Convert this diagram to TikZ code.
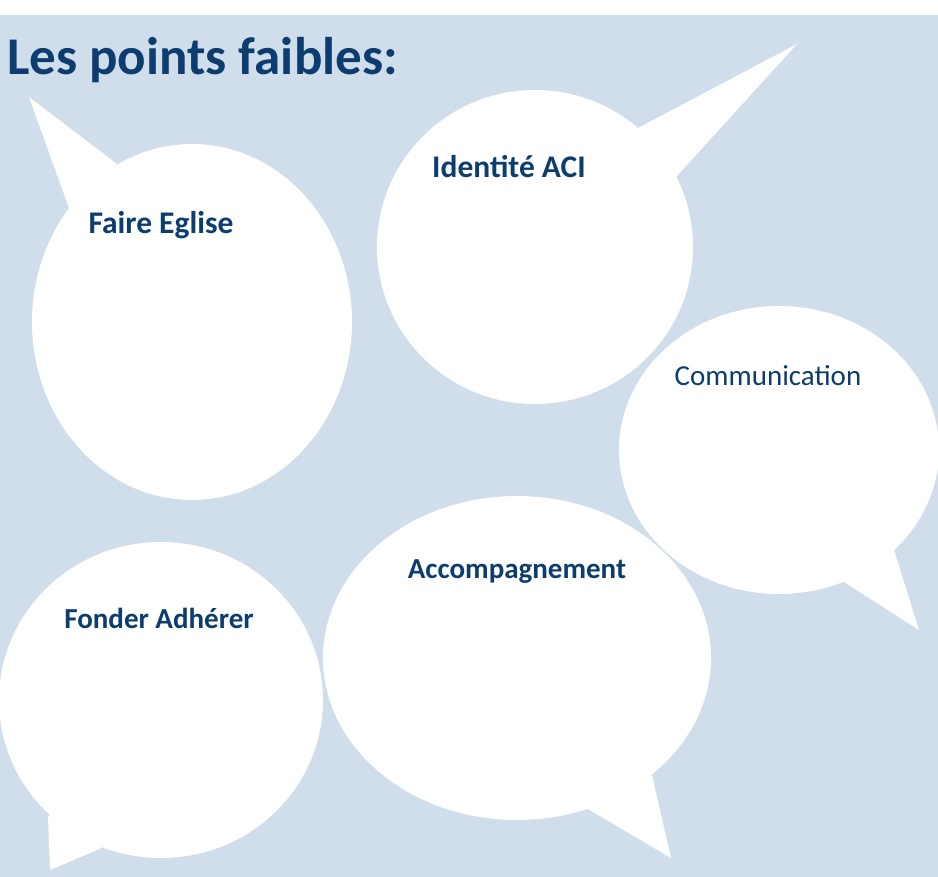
\documentclass[tikz,border=0pt]{standalone}
\usepackage{fontspec}
\setmainfont{Carlito}
\usetikzlibrary{shapes.geometric}
\definecolor{pale}{HTML}{CFDEEA}
\definecolor{navy}{HTML}{0D3D6F}
\tikzset{
  bubble/.style={ellipse, fill=white, inner sep=0pt},
  tail/.style={fill=white},
  bubbletext/.style={text=navy, inner sep=0pt, font=\fontsize{29}{34}\selectfont\bfseries},
}
\begin{document}
\begin{tikzpicture}[x=1pt,y=-1pt]
          \useasboundingbox (0,0) rectangle (938,877);
          % background
          \fill[pale] (0,15) rectangle (938,877);
          % title
          \node[anchor=base west, inner sep=0pt, text=navy, font=\fontsize{53}{60}\selectfont\bfseries] (title) at (7,75) {Les points faibles:};
          % five bubbles
          \node[bubble, minimum width=320pt, minimum height=356pt] (eglise) at (192,322) {};
          \node[bubble, minimum width=316pt, minimum height=314pt] (identite) at (535,247) {};
          \node[bubble, minimum width=320pt, minimum height=288pt] (commun) at (779,450) {};
          \node[bubble, minimum width=388pt, minimum height=324pt] (accomp) at (517,658) {};
          \node[bubble, minimum width=324pt, minimum height=316pt] (fonder) at (161,700) {};
          % and their tails
          \coordinate (egtip) at (29,97);
          \coordinate (idtip) at (797,44);
          \coordinate (cotip) at (919,630);
          \coordinate (actip) at (671,858);
          \coordinate (fotip) at (50,870);
          \fill[tail] (117,164) -- (egtip) -- (69,208) -- cycle;
          \fill[tail] (638,128) -- (idtip) -- (676,177) -- cycle;
          \fill[tail] (894,550) -- (cotip) -- (844,582) -- cycle;
          \fill[tail] (652,775) -- (actip) -- (588,809) -- cycle;
          \fill[tail] (60,805) -- (48,817) -- (fotip) -- (102,848) -- cycle;
          % labels
          \node[bubbletext, font=\fontsize{31.5}{36}\selectfont\bfseries] (egtext) at (161,225) {Faire Eglise};
          \node[bubbletext, font=\fontsize{31.5}{36}\selectfont\bfseries] (idtext) at (509,167) {Identité ACI};
          \node[bubbletext, font=\fontsize{29}{34}\selectfont] (cotext) at (768,376) {Communication};
          \node[bubbletext] (actext) at (517,572) {Accompagnement};
          \node[bubbletext] (fotext) at (159,618) {Fonder Adhérer};
        \end{tikzpicture}
\end{document}
